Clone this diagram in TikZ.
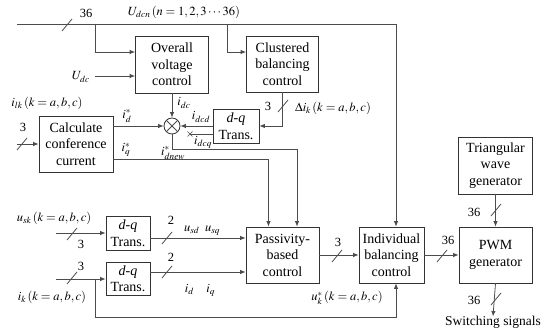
\documentclass[tikz,border=0pt]{standalone}
\usepackage{mathptmx}
\usepackage[no-math]{fontspec}
\setmainfont{Liberation Serif}
\usetikzlibrary{arrows.meta}
\tikzset{
  box/.style={draw=black!80, line width=0.8pt, align=center, inner sep=0pt, fill=white},
  ln/.style={draw=black!70, line width=0.8pt},
  arr/.style={ln, -{Latex[length=5.5pt,width=4.5pt]}},
  lbl/.style={font=\fontsize{12.5}{14}\selectfont, inner sep=0pt},
  sl/.pic={\draw[ln] (-5,6) -- (5,-6);},
}
\begin{document}
\begin{tikzpicture}[x=1pt,y=-1pt,font=\fontsize{14}{16.5}\selectfont]
\useasboundingbox (0,0) rectangle (542,331);
% boxes
\node[box, minimum width=73pt, minimum height=57pt] (ovc) at (172,64.5) {Overall\\voltage\\control};
\node[box, minimum width=72pt, minimum height=56pt] (cbc) at (282.5,64) {Clustered\\balancing\\control};
\node[box, minimum width=46pt, minimum height=34pt] (dq) at (236,126) {\textit{d-q}\\Trans.};
\node[draw=black!80, line width=0.8pt, circle, minimum size=16pt, inner sep=0pt] (mul) at (172,126) {};
\draw[ln] (mul.north west) -- (mul.south east) (mul.north east) -- (mul.south west);
\node[box, minimum width=74pt, minimum height=56pt] (calc) at (76,144) {Calculate\\conference\\current};
\node[box, minimum width=44pt, minimum height=34pt] (dq1) at (128,233) {\textit{d-q}\\Trans.};
\node[box, minimum width=44pt, minimum height=33pt] (dq2) at (128,278.5) {\textit{d-q}\\Trans.};
\node[box, minimum width=73pt, minimum height=56pt] (pbc) at (282.5,255) {Passivity-\\based\\control};
\node[box, minimum width=65pt, minimum height=56pt] (indiv) at (391.5,255) {Individual\\balancing\\control};
\node[box, minimum width=73pt, minimum height=56pt] (pwm) at (495.5,255) {PWM\\generator};
\node[box, minimum width=74pt, minimum height=57pt] (tri) at (495.5,165.5) {Triangular\\wave\\generator};
\node[inner sep=0pt, anchor=base, font=\fontsize{13.5}{16}\selectfont] (swtxt) at (493,326) {Switching signals};

% top bus
\coordinate (busL) at (17,24);
\coordinate (busR) at (396,24);
\draw[arr] (busL) -- (busR) -- (busR |- indiv.north);
\pic at (67,25) {sl};
\node[lbl] (n36a) at (86,13) {36};
\node[lbl] (udcn) at (184,12) {$U_{dcn}\,(n=1,2,3\cdots36)$};
\coordinate (b1) at (95,24);
\draw[arr] (b1) |- ([yshift=12.5pt]ovc.west);
\coordinate (b2) at (227,24);
\draw[arr] (b2) |- ([yshift=12pt]cbc.west);

% U_dc
\node[lbl, anchor=east] (udc) at (90,77) {$U_{dc}$};
\coordinate (udcin) at (95,76);
\draw[arr] (udcin) -- (udcin -| ovc.west);

% overall -> mul
\draw[arr] (ovc.south) -- (mul.north);
\node[lbl] (idc) at (184,103) {$i_{dc}$};

% clustered -> dq
\draw[arr] (cbc.south) |- (dq.east);
\pic at (283,106) {sl};
\node[lbl] (n3c) at (268,106) {3};
\node[lbl] (dik) at (333,108) {$\Delta i_k\,(k=a,b,c)$};

% dq -> mul
\draw[arr] (dq.west) -- (mul.east);
\node[lbl] (idcd) at (201,117) {$i_{dcd}$};
\coordinate (xq) at (190,134);
\draw[ln] (xq -| dq.west) -- (xq);
\draw[ln, line width=0.6pt] (xq) +(-2.5,-2.5) -- +(2.5,2.5) +(-2.5,2.5) -- +(2.5,-2.5);
\node[lbl] (idcq) at (203,142) {$i_{dcq}$};

% calc input
\node[lbl] (ilk) at (47,103) {$i_{lk}\,(k=a,b,c)$};
\coordinate (cin) at (17,144);
\draw[arr] (cin) -- (cin -| calc.west);
\pic at (22,144) {sl};
\node[lbl] (n3b) at (23,127) {3};

% calc outputs
\draw[arr] (calc.east |- mul.west) -- (mul.west);
\node[lbl] (ids) at (127,116) {$i_d^*$};
\draw[arr] ([yshift=-15pt]calc.east) -| ([xshift=-14pt]pbc.north);
\node[lbl] (iqs) at (126,150) {$i_q^*$};
\coordinate (dn) at (297,149);
\draw[arr] (mul.south) |- (dn) -- (dn |- pbc.north);
\node[lbl] (idn) at (173,153) {$i^*_{dnew}$};

% lower left
\node[lbl] (usk) at (54,218) {$u_{sk}\,(k=a,b,c)$};
\coordinate (u1) at (56,233);
\draw[arr] (u1) -- (u1 -| dq1.west);
\pic at (72,234) {sl};
\node[lbl] (n3d) at (81,244) {3};
\coordinate (o1) at (150,238);
\draw[arr] (o1) -- (o1 -| pbc.west);
\pic at (167,238) {sl};
\node[lbl] (n2a) at (171,220) {2};
\node[lbl] (usd) at (202,231) {$u_{sd}\;\;u_{sq}$};

\coordinate (u2) at (56,279);
\draw[arr] (u2) -- (u2 -| dq2.west);
\pic at (72,278) {sl};
\node[lbl] (n3e) at (81,266) {3};
\node[lbl] (ik) at (52,297) {$i_k\,(k=a,b,c)$};
\coordinate (o2) at (150,272);
\draw[arr] (o2) -- (o2 -| pbc.west);
\pic at (167,272) {sl};
\node[lbl] (n2b) at (171,257) {2};
\node[lbl] (idq) at (200,290) {$i_d\quad i_q$};

\coordinate (br) at (95,279);
\coordinate (bb) at (396,317);
\draw[arr] (br) |- (bb) -- (bb |- indiv.south);
\node[lbl] (uks) at (347,298) {$u^*_k\,(k=a,b,c)$};

% right part
\draw[arr] (pbc.east) -- (indiv.west);
\pic at (337,256) {sl};
\node[lbl] (n3f) at (338,242) {3};
\draw[arr] (indiv.east) -- (pwm.west);
\pic at (442,256) {sl};
\node[lbl] (n36b) at (448,240) {36};
\draw[arr] (tri.south) -- (pwm.north);
\pic at (496,210) {sl};
\node[lbl] (n36c) at (474,212) {36};
\draw[arr] (pwm.south) -- (swtxt.north);
\pic at (496,299) {sl};
\node[lbl] (n36d) at (474,300) {36};
\end{tikzpicture}
\end{document}
